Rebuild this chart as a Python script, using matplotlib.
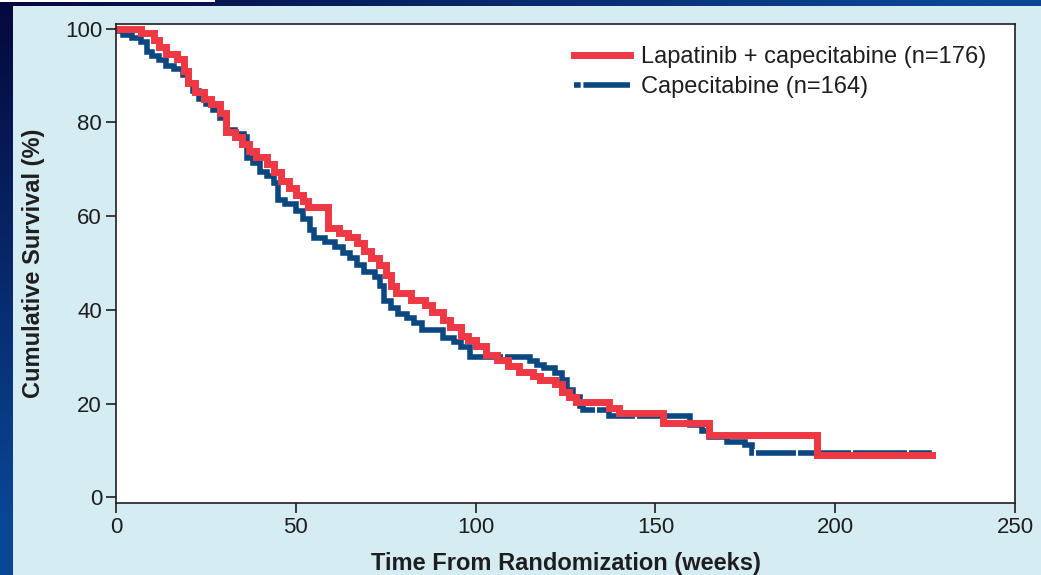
import numpy as np
import matplotlib.pyplot as plt
from matplotlib.colors import LinearSegmentedColormap
from matplotlib.patches import Rectangle
from matplotlib.lines import Line2D

# Kaplan-Meier step data (weeks, cumulative survival %)
lap_weeks = [0, 7, 10.5, 12, 14, 17, 19, 20, 22, 24.5, 26.5, 29, 30.5, 33, 35, 37,
             39, 42, 44, 46, 48, 50, 52, 53.5, 59, 62, 64.5, 67, 69, 71, 73, 75,
             76.5, 78, 82, 86, 88, 91, 93, 96, 98, 100, 103, 106, 109, 112, 116,
             118, 122, 124, 126, 128, 137, 140, 152, 165, 195, 227]
lap_surv = [100, 99, 97.5, 96, 94.5, 93.5, 91, 88.5, 86.5, 85, 84, 82, 78, 76.8,
            75.5, 74, 72.6, 71.2, 69.5, 67.5, 66, 64.5, 63.2, 62, 57.5, 56.5, 55.5,
            54.2, 52.5, 51, 49.5, 47.5, 45, 43.5, 42.2, 41, 39.5, 37.8, 36.3, 34.5,
            33.5, 32.2, 30.3, 29.3, 28, 26.7, 25.8, 25, 24.2, 22.5, 21.5, 20.3, 19,
            17.9, 15.8, 13.4, 9.1, 9.1]

cap_weeks = [0, 0.5, 2, 4.5, 7, 8.5, 10, 12, 14, 16, 18.5, 20, 21.5, 23, 25, 27,
             29, 30.5, 33, 35.5, 36.5, 38, 40, 42, 44, 45, 47, 50, 52, 54, 55, 58,
             61, 63, 65, 67, 69, 72, 73.5, 74.5, 76.5, 78.5, 81, 83, 85, 91, 94,
             96, 98.5, 115, 117, 119, 122, 124, 125.5, 127, 129, 130, 137, 159.5,
             163, 165, 170, 175, 177, 226]
cap_surv = [100, 99.4, 98.7, 98, 97.2, 95, 94.2, 93.4, 92, 91.3, 90.2, 88.5, 86.8,
            85, 84, 82.7, 81, 78.4, 77.6, 76.8, 72.5, 71.4, 69.5, 68.5, 67, 63.5,
            62.5, 61, 59.5, 57, 55.3, 54.5, 53.5, 52.2, 51, 49.5, 48, 47, 45, 42,
            40.5, 39.2, 38.3, 37.2, 35.8, 34, 33.2, 32, 30, 29, 28.2, 27.5, 26.5,
            25, 23, 21.5, 19.5, 18.6, 17.3, 15.4, 14.2, 12.8, 11.8, 11.1, 9.4, 9.4]
cap_censored = [108, 133.5, 144.5, 152.5, 177.7, 189.4, 204.7, 220.2]

labels = ['Lapatinib + capecitabine (n=176)', 'Capecitabine (n=164)']
red = '#ee3844'
blue = '#0b4780'
panel = '#d5ecf3'
ink = '#1e1e1e'

plt.rcParams['font.family'] = ['Liberation Sans', 'DejaVu Sans']


def step_at(weeks, surv, t):
    i = np.searchsorted(weeks, t, side='right') - 1
    return np.array(surv)[i]


fig = plt.figure(figsize=(10.41, 5.75), dpi=100)

# slide background: navy gradient with a light panel
bg = fig.add_axes([0, 0, 1, 1])
xs = np.linspace(0, 1, 300)
ys = np.linspace(0, 1, 200)
grad = np.clip(xs[None, :] * 1.1 + ys[:, None] * 1.1, 0, 1)
cmap = LinearSegmentedColormap.from_list('navy', ['#05083c', '#0a4696'])
bg.imshow(grad, cmap=cmap, extent=[0, 1, 0, 1], aspect='auto', origin='upper')
bg.add_patch(Rectangle((13 / 1041, 0), 1, 1 - 6 / 575, color=panel, lw=0))
bg.add_patch(Rectangle((0, 1 - 2 / 575), 215 / 1041, 2 / 575, color='white', lw=0))
bg.set_xlim(0, 1)
bg.set_ylim(0, 1)
bg.axis('off')

ax = fig.add_axes([116 / 1041, 72 / 575, 899 / 1041, 479 / 575])
ax.set_facecolor('white')

ax.plot(cap_weeks, cap_surv, drawstyle='steps-post', color=blue, lw=4,
        solid_joinstyle='miter')
ax.plot(cap_censored, step_at(cap_weeks, cap_surv, cap_censored), ls='none',
        marker='|', color='white', markersize=6, mew=1.5)
ax.plot(lap_weeks, lap_surv, drawstyle='steps-post', color=red, lw=5,
        solid_joinstyle='miter')

ax.set_xlim(0, 250)
ax.set_ylim(-1.2, 101)
ax.set_xticks([0, 50, 100, 150, 200, 250])
ax.set_yticks([0, 20, 40, 60, 80, 100])
ax.tick_params(direction='out', length=7, width=1.2, color=ink, labelcolor=ink,
               labelsize=16, pad=3)
for s in ax.spines.values():
    s.set_linewidth(1.2)
    s.set_color(ink)

ax.set_xlabel('Time From Randomization (weeks)', fontsize=17, fontweight='bold',
              color=ink, labelpad=10)
ax.set_ylabel('Cumulative Survival (%)', fontsize=17, fontweight='bold',
              color=ink, labelpad=14)

handles = [Line2D([], [], color=red, lw=5),
           Line2D([], [], color=blue, lw=4, dashes=(1.2, 0.5, 9, 0.5, 2, 0.5))]
ax.legend(handles, labels, loc='upper right', bbox_to_anchor=(0.992, 0.9975),
          frameon=False, fontsize=17, handlelength=2.4, handletextpad=0.47,
          labelspacing=0.33, labelcolor=ink)

fig.savefig('out.png', dpi=100)
